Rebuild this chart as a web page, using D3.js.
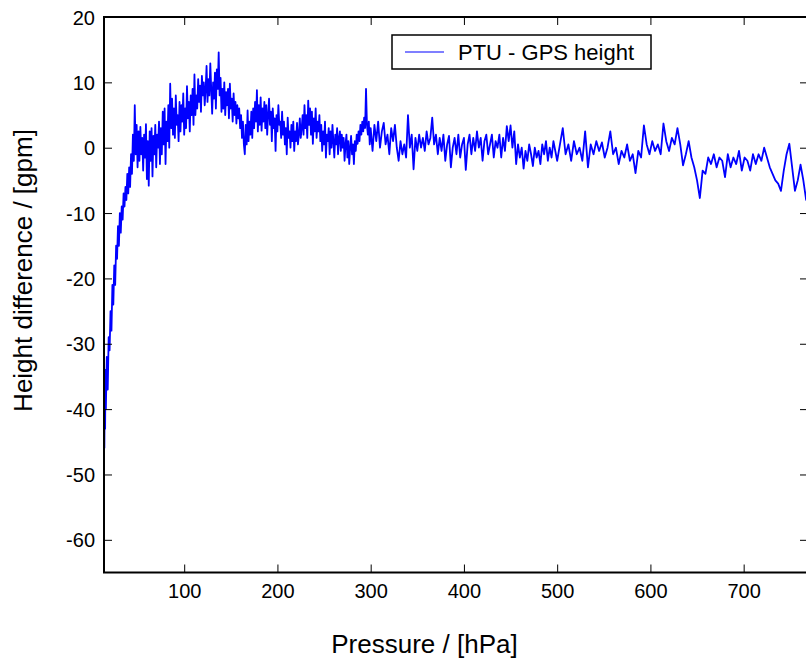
<!DOCTYPE html>
<html>
<head>
<meta charset="utf-8">
<script src="https://cdn.jsdelivr.net/npm/d3@7"></script>
<style>
  html, body { margin: 0; padding: 0; background: #fff; }
  svg { display: block; }
  text { font-family: "Liberation Sans", Arial, sans-serif; fill: #000; }
</style>
</head>
<body>
<svg id="chart" width="806" height="659"></svg>
<script>
// ---- data ----
const pressure = [
  14.4,14.8,15.2,15.6,16,17,18,19,20,21,22,23,24,25,26,27,28,29,30,31,32,33,34,35,36,37,38,39,40,41,42,43,44,45,46,47,48,49,50,
  51,52,53,54,55,56,57,58,59,60,61,62,63,64,65,66,67,68,69,70,71,72,73,74,75,
  76,77,78,79,80,81,82,83,84,85,
  86,87,88,89,90,91,92,93,94,95,96,97,98,99,100,101,102,103,104,105,106,107,108,109,110,111,112,113,
  114,115,116,117,118,119,120,121,122,123,124,125,126,127,128,129,130,131,132,133,134,135,136,137,138,
  139,140,141,142,143,144,145,146,147,148,149,150,151,152,153,154,155,156,157,158,159,160,
  161,162,163,164,165,166,167,168,169,170,171,172,173,174,
  175,176,177,178,179,180,181,182,183,184,185,186,
  187,188,189,190,191,192,193,194,195,196,197,198,199,200,201,202,203,204,205,206,
  207,208,209,210,211,212,213,214,215,216,217,218,219,220,221,222,223,224,225,226,227,
  228,229,230,231,232,233,234,235,236,237,238,239,240,241,242,243,244,245,
  246,247,248,249,250,251,252,253,254,255,256,257,258,259,260,261,262,263,264,265,266,267,268,269,270,
  271,272,273,274,275,276,277,278,279,280,281,282,283,284,285,
  286,287,288,289,290,291,292,293,294,295,296,297,298,299,300,
  302,304,306,308,310,312,314,316,318,320,322,324,326,328,
  330,332,334,336,338,340,342,344,346,348,350,
  352,354,356,358,360,362,364,366,368,370,
  372,374,376,378,380,382,384,386,388,390,392,394,396,398,400,
  402,404,406,408,410,412,414,416,418,420,422,424,426,428,430,432,434,436,438,
  440,442,444,446,448,450,452,454,456,
  458,460,462,464,466,468,470,472,474,476,478,480,
  482,484,486,488,490,492,494,496,498,500,
  503,506,509,512,515,518,521,524,527,530,533,536,539,542,545,548,551,554,557,560,
  563,566,569,572,575,578,581,584,587,590,593,596,599,602,605,608,611,614,617,620,
  623,626,629,632,635,638,641,644,647,650,653,656,659,662,665,668,671,674,677,680,
  683,686,689,692,695,698,701,704,707,710,713,716,719,722,725,728,731,734,737,740,
  743,746,749,752,755,758,761,764,767,770
];
const heightDiff = [
  -46,-36,-43,-34,-40,-32,-37,-29,-31,-25,-28,-21,-24,-18,-21,-15,-17,-12,-15,-10,-13,-9,-11,-7,-9,-6,-8,-4,-7,-3,-6,-1,-4,2,-2,6.5,-1,3.5,-3,
  2.5,-2,3.2,-1,1.5,-3.5,2,-1.5,3.6,-4.8,1,-5.8,2.5,-2,3,-4.4,1.8,-1,3.5,-3,2,0,4,-2.5,3,
  -1,5.5,0.5,6,-2.5,4,1,6.5,0,9.8,
  3,7.5,2,6,1.5,8,3.5,5,1,7,2.5,6.5,4,8.3,2,6,3,9.4,4.5,7,2.5,8,5,9,3.5,11.2,5,8,
  6,10.5,7,9.5,5.5,11,8,10,6.5,9,12.5,7,10.5,8,12.9,9,5.2,10,7.5,11.5,6,12,9,14.6,8,
  10.7,5.5,9,6,10,5,8.5,6.5,9,4.5,9.8,6,7.5,4,8.3,5,7,3.7,6.5,4.5,6,3,
  5,1.5,4,0.5,-1,3.5,0.5,5.7,1,4,2,5.5,1.5,6,
  3,7,4,8.8,2.5,6.5,3.5,7.7,2.6,6,4,7,
  3,6.5,2,5,7.5,3.5,5.5,1,6,3,4.5,-0.5,5,2.5,6.5,3.5,4,1.5,5.5,2,
  4,0.5,3,-1,4.6,1.5,2.5,0,3.5,1,4,-0.5,2.5,1,3.8,0.5,2,4.5,1.5,3,5,
  2,6.5,3,5,1.5,7.2,3.5,6,2,5.5,0.6,4.5,2.5,6,1.5,4,2.5,5,
  1,3.5,-0.5,2.5,0.5,4,-1.5,2,1,3,-1,2.5,0,3.5,1,-1.5,2,0.5,3,-1,1.5,2.5,-0.5,2,0,
  1.5,-2,0.5,2,-1.5,1,-2.5,0,1.8,-1,0.5,-2.5,1,-0.5,2,
  0.6,2.5,1,3.5,2,4,2.5,4.6,3,9,3.5,2,4,0.5,3,
  -0.5,3.5,1,4,0,2.5,3.8,0.5,2,-1,3,1,3.5,0,
  -2,1,-1,0.5,-1.5,5,0,2,-3.3,1.5,-0.5,
  2,0,1.5,-0.5,2.5,0.5,1.5,4.6,0.5,2,
  -1,1.5,-0.5,2,-2,0.5,1.8,-3,0,1.5,-1,2,-1.5,0.5,1.5,
  -3.4,0.5,2,-1,1.5,-0.5,2.5,0,1.5,-2,1,2,-1,0.5,2,-1.5,1,0,2,
  -1.5,1.5,-0.5,3.3,1,3.4,0,2.5,-2.5,
  0.5,-1.5,0,-3.2,-0.5,-2,0.5,-1,-2.8,0,-1.5,-0.5,
  -2.5,0.5,-1,1,-2,0,-1.5,1,-0.5,-2,
  0.5,3,-1,0.5,-2,1,-1,0,-2,2.5,-3,0.5,-1,1,-0.5,0.8,-1.5,0,2.5,-1,
  0,-2.5,-0.5,-1.5,0.5,-2,-1,-3.9,-0.5,-1.5,3.4,0.5,-1,1,-0.5,0.5,-1,3.7,1,-0.5,
  1.5,0.5,3,0.5,-2.7,-1,1,-1.5,-3,-5,-7.7,-3.5,-4,-1.5,-2.5,-1,-3,-1.5,-2,-4.5,
  -1,-3,-1.5,-2.5,-0.5,-3.5,-1.5,-2,-3.5,-1,-2.5,-1,-2,0,-1.5,-3,-4,-5,-5.5,-6.6,
  -3.5,-1,0.6,-3,-6.6,-5,-2.6,-5,-8,-3
];
const xTicks = [100, 200, 300, 400, 500, 600, 700];
const yTicks = [-60, -50, -40, -30, -20, -10, 0, 10, 20];
const xDomain = [14, 769];
const yDomain = [-65, 20];
const seriesName = "PTU - GPS height";
const xLabel = "Pressure / [hPa]";
const yLabel = "Height difference / [gpm]";

// ---- layout ----
const L = 104, R = 808, T = 17, B = 572.5;
const svg = d3.select("#chart");
const x = d3.scaleLinear().domain(xDomain).range([L, R]);
const y = d3.scaleLinear().domain(yDomain).range([B, T]);

svg.append("defs").append("clipPath").attr("id", "clip")
  .append("rect").attr("x", L).attr("y", T).attr("width", R - L).attr("height", B - T);

const data = pressure.map((p, i) => [p, heightDiff[i]]);
svg.append("path")
  .datum(data)
  .attr("clip-path", "url(#clip)")
  .attr("fill", "none")
  .attr("stroke", "#0000ff")
  .attr("stroke-width", 1.8)
  .attr("stroke-linejoin", "round")
  .attr("d", d3.line().x(d => x(d[0])).y(d => y(d[1])));

// axes with inward ticks
const fs = 20;
const fmt = d => String(d);
const gx = svg.append("g").attr("transform", `translate(0,${B})`)
  .call(d3.axisBottom(x).tickValues(xTicks).tickSize(-8).tickPadding(11).tickFormat(fmt));
const gxt = svg.append("g").attr("transform", `translate(0,${T})`)
  .call(d3.axisTop(x).tickValues(xTicks).tickSize(-8).tickFormat(""));
const gy = svg.append("g").attr("transform", `translate(${L},0)`)
  .call(d3.axisLeft(y).tickValues(yTicks).tickSize(-8).tickPadding(9).tickFormat(fmt));
const gyr = svg.append("g").attr("transform", `translate(${R},0)`)
  .call(d3.axisRight(y).tickValues(yTicks).tickSize(-8).tickFormat(""));
[gx, gxt, gy, gyr].forEach(g => {
  g.select(".domain").remove();
  g.selectAll(".tick line").attr("stroke", "#000").attr("stroke-width", 1);
  g.selectAll(".tick text").style("font-size", fs + "px").style("font-family", '"Liberation Sans", Arial, sans-serif').attr("fill", "#000");
});
gx.selectAll(".tick text").attr("dy", "0.71em");
gy.selectAll(".tick text").attr("dy", "0.35em");

// frame
svg.append("rect").attr("x", L).attr("y", T).attr("width", R - L).attr("height", B - T)
  .attr("fill", "none").attr("stroke", "#000").attr("stroke-width", 2);

// axis labels
svg.append("text").attr("x", 424.5).attr("y", 653).attr("text-anchor", "middle")
  .style("font-size", "26px").text(xLabel);
svg.append("text").attr("transform", `translate(32,270.5) rotate(-90)`).attr("text-anchor", "middle")
  .style("font-size", "26px").text(yLabel);

// legend
const lg = svg.append("g");
lg.append("rect").attr("x", 392).attr("y", 35).attr("width", 259).attr("height", 34)
  .attr("fill", "#fff").attr("stroke", "#000").attr("stroke-width", 1.5);
lg.append("line").attr("x1", 405).attr("x2", 444).attr("y1", 52).attr("y2", 52)
  .attr("stroke", "#0000ff").attr("stroke-width", 1.2);
lg.append("text").attr("x", 458).attr("y", 52).attr("dy", "0.35em")
  .style("font-size", "22px").text(seriesName);
</script>
</body>
</html>
